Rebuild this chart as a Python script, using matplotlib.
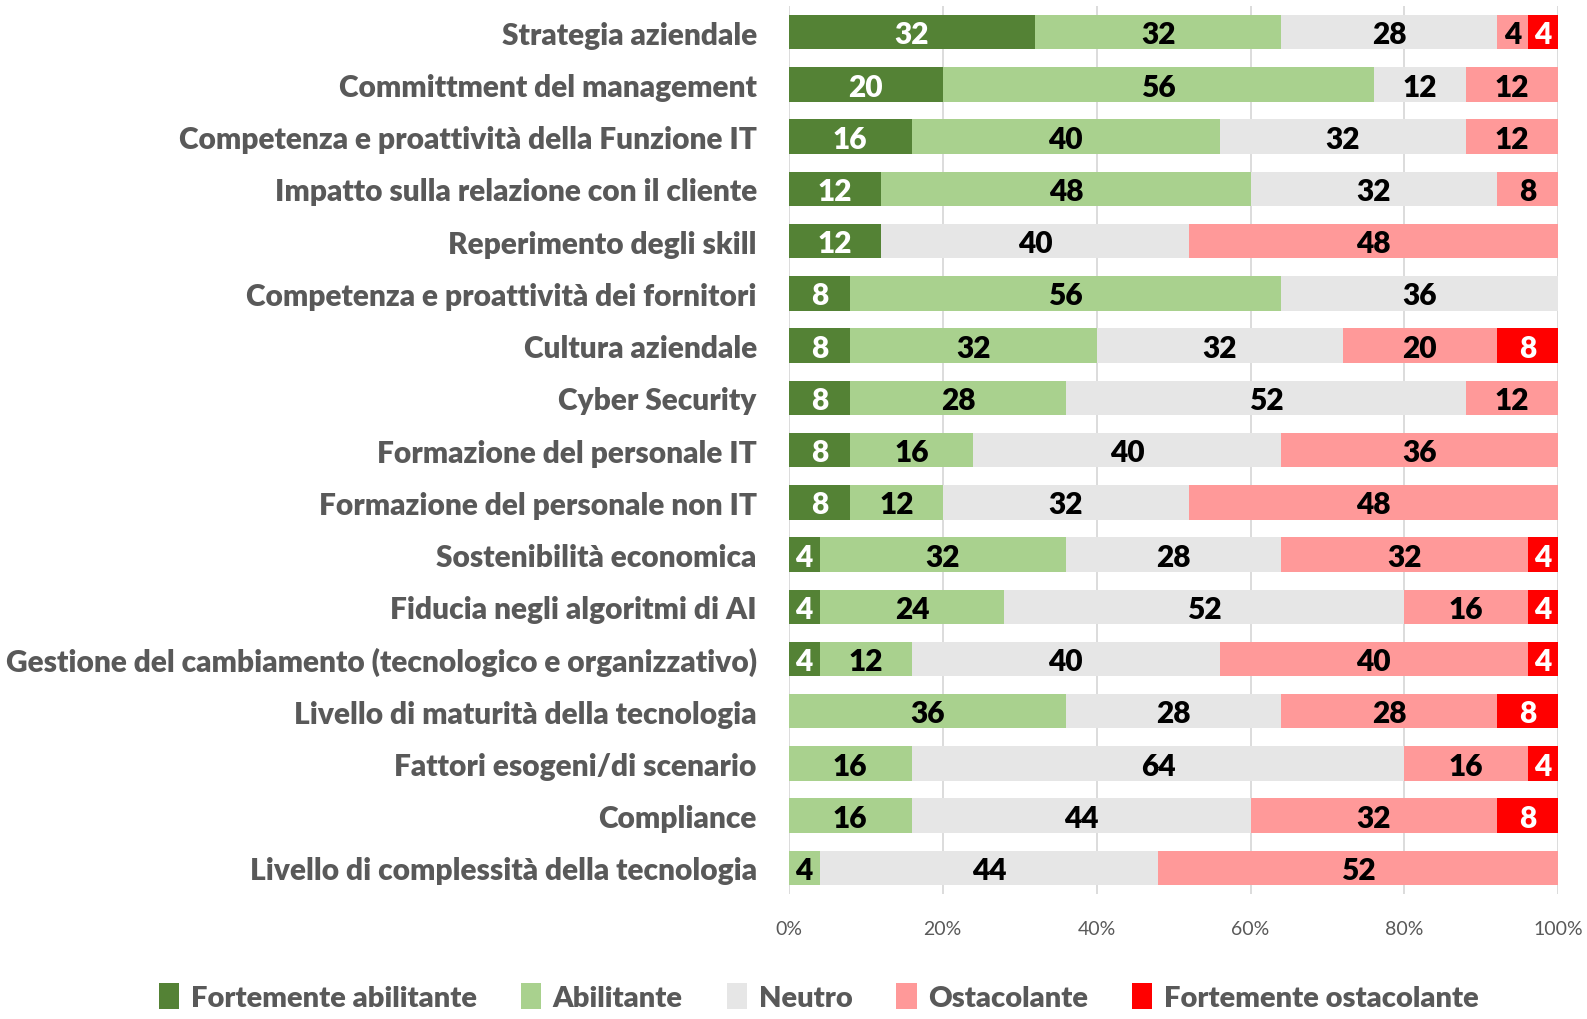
import matplotlib
matplotlib.use("Agg")
import matplotlib.pyplot as plt
import numpy as np

plt.rcParams['font.family'] = ['Lato', 'DejaVu Sans']

# categories, top to bottom
categories = [
    "Strategia aziendale",
    "Committment del management",
    "Competenza e proattività della Funzione IT",
    "Impatto sulla relazione con il cliente",
    "Reperimento degli skill",
    "Competenza e proattività dei fornitori",
    "Cultura aziendale",
    "Cyber Security",
    "Formazione del personale IT",
    "Formazione del personale non IT",
    "Sostenibilità economica",
    "Fiducia negli algoritmi di AI",
    "Gestione del cambiamento (tecnologico e organizzativo)",
    "Livello di maturità della tecnologia",
    "Fattori esogeni/di scenario",
    "Compliance",
    "Livello di complessità della tecnologia",
]

forte_abil = [32, 20, 16, 12, 12, 8, 8, 8, 8, 8, 4, 4, 4, 0, 0, 0, 0]
abilitante = [32, 56, 40, 48, 0, 56, 32, 28, 16, 12, 32, 24, 12, 36, 16, 16, 4]
neutro = [28, 12, 32, 32, 40, 36, 32, 52, 40, 32, 28, 52, 40, 28, 64, 44, 44]
ostacolante = [4, 12, 12, 8, 48, 0, 20, 12, 36, 48, 32, 16, 40, 28, 16, 32, 52]
forte_ost = [4, 0, 0, 0, 0, 0, 8, 0, 0, 0, 4, 4, 4, 8, 4, 8, 0]

series_names = ["Fortemente abilitante", "Abilitante", "Neutro", "Ostacolante", "Fortemente ostacolante"]
series = [forte_abil, abilitante, neutro, ostacolante, forte_ost]
colors = ["#548235", "#A9D18E", "#E6E6E6", "#FF9999", "#FF0000"]
text_colors = ["white", "black", "black", "black", "white"]

grey = "#595959"

fig = plt.figure(figsize=(15.87, 10.20), dpi=100)
ax = fig.add_axes([0.497, 0.1225, 0.485, 0.8705])

y = np.arange(len(categories))
left = np.zeros(len(categories))
for name, vals, col, tcol in zip(series_names, series, colors, text_colors):
    vals = np.array(vals, dtype=float)
    bars = ax.barh(y, vals, left=left, height=0.66, color=col, label=name, zorder=2)
    for b, v in zip(bars, vals):
        if v > 0:
            ax.text(b.get_x() + b.get_width() / 2, b.get_y() + b.get_height() / 2 + 0.04,
                    f"{int(v)}", ha='center', va='center', color=tcol,
                    fontsize=21.5, fontweight='heavy', zorder=3)
    left += vals

ax.set_xlim(0, 100)
ax.set_ylim(len(categories) - 0.5, -0.5)
ax.set_yticks(y)
ax.set_yticklabels(categories, fontsize=21.5, fontweight='heavy', color=grey)
ax.set_xticks([0, 20, 40, 60, 80, 100])
ax.set_xticklabels(["0%", "20%", "40%", "60%", "80%", "100%"], fontsize=14, color=grey)
ax.tick_params(axis='y', length=0, pad=23)
ax.tick_params(axis='x', length=0, pad=19)
ax.grid(axis='x', color="#D9D9D9", lw=1.3, zorder=0)
for s in ax.spines.values():
    s.set_visible(False)

# legend sits at the very bottom edge, as in the original
fig.legend(loc='center', bbox_to_anchor=(0.516, 0.022), ncol=5, frameon=False,
           prop={'size': 21, 'weight': 'heavy'}, labelcolor=grey,
           handlelength=0.7, handleheight=1.0, handletextpad=0.4, columnspacing=1.5)

fig.savefig("out.png", dpi=100)
